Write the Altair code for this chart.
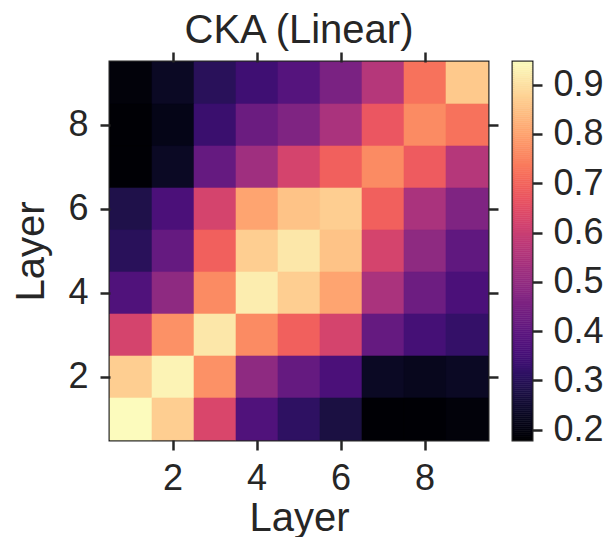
import altair as alt
import numpy as np
import pandas as pd

layers = [1, 2, 3, 4, 5, 6, 7, 8, 9]
# rows listed from layer 9 (top) down to layer 1 (bottom); columns layer 1..9
row9 = [0.19, 0.23, 0.30, 0.34, 0.38, 0.45, 0.56, 0.72, 0.86]
row8 = [0.18, 0.21, 0.33, 0.42, 0.46, 0.54, 0.67, 0.76, 0.72]
row7 = [0.18, 0.23, 0.41, 0.52, 0.62, 0.69, 0.76, 0.68, 0.56]
row6 = [0.28, 0.36, 0.62, 0.80, 0.85, 0.87, 0.69, 0.54, 0.46]
row5 = [0.30, 0.41, 0.69, 0.87, 0.91, 0.85, 0.62, 0.49, 0.40]
row4 = [0.37, 0.49, 0.76, 0.92, 0.87, 0.80, 0.54, 0.425, 0.36]
row3 = [0.62, 0.77, 0.91, 0.76, 0.69, 0.62, 0.41, 0.35, 0.32]
row2 = [0.87, 0.93, 0.77, 0.49, 0.41, 0.36, 0.23, 0.22, 0.23]
row1 = [0.943, 0.87, 0.63, 0.37, 0.31, 0.27, 0.18, 0.18, 0.19]
rows = {9: row9, 8: row8, 7: row7, 6: row6, 5: row5, 4: row4, 3: row3, 2: row2, 1: row1}

tick_vals = [2, 4, 6, 8]
cbar_ticks = [0.2, 0.3, 0.4, 0.5, 0.6, 0.7, 0.8, 0.9]
cmin, cmax = 0.179, 0.946

recs = []
for ly, vals in rows.items():
    for lx, v in zip(layers, vals):
        recs.append({"lx": lx, "ly": ly, "cka": v})
df = pd.DataFrame(recs)

TXT = "#262626"
cscale = alt.Scale(scheme="magma", domain=[cmin, cmax])

xs = alt.Scale(domain=layers, paddingInner=0, paddingOuter=0)
ys = alt.Scale(domain=layers[::-1], paddingInner=0, paddingOuter=0)

base = alt.Chart(df)
heat = base.mark_rect(strokeWidth=0.6).encode(
    x=alt.X("lx:O", scale=xs, title="Layer",
            axis=alt.Axis(values=tick_vals, labelAngle=0, orient="bottom",
                          labelPadding=11, titlePadding=2)),
    y=alt.Y("ly:O", scale=ys, title="Layer",
            axis=alt.Axis(values=tick_vals, orient="left",
                          labelPadding=12, titlePadding=16)),
    color=alt.Color("cka:Q", scale=cscale, legend=None),
    stroke=alt.Stroke("cka:Q", scale=cscale, legend=None),
)
frame_axes = base.mark_rect(opacity=0).encode(
    x=alt.X("lx:O", scale=xs, title=None,
            axis=alt.Axis(values=tick_vals, labels=False, orient="top")),
    y=alt.Y("ly:O", scale=ys, title=None,
            axis=alt.Axis(values=tick_vals, labels=False, orient="right")),
)
main = alt.layer(heat, frame_axes).resolve_axis(x="independent", y="independent").properties(
    width=378, height=378,
    title=alt.TitleParams("CKA (Linear)", fontSize=40, fontWeight="normal", color=TXT,
                          anchor="middle", offset=0),
)

steps = np.arange(cmin, cmax, 0.004)
cb = pd.DataFrame({"v": steps, "v2": np.minimum(steps + 0.004, cmax)})
cbar = alt.Chart(cb).mark_rect(strokeWidth=0.6).encode(
    y=alt.Y("v:Q", scale=alt.Scale(domain=[cmin, cmax], nice=False, zero=False),
            title=None,
            axis=alt.Axis(values=cbar_ticks, format=".1f", orient="right",
                          tickSize=10, labelPadding=11)),
    y2="v2:Q",
    color=alt.Color("v:Q", scale=cscale, legend=None),
    stroke=alt.Stroke("v:Q", scale=cscale, legend=None),
).properties(width=19, height=378)

chart = alt.hconcat(main, cbar, spacing=10).configure(
    font="Liberation Sans",
    padding={"left": 10, "top": 9, "right": 0, "bottom": 0},
).configure_view(
    stroke=TXT, strokeWidth=3,
).configure_axis(
    domain=False, grid=False,
    tickColor=TXT, tickWidth=2.5, tickSize=10,
    labelColor=TXT, labelFontSize=36,
    titleColor=TXT, titleFontSize=40, titleFontWeight="normal",
)

chart.save("out.html", embed_options={"renderer": "svg", "actions": False})
